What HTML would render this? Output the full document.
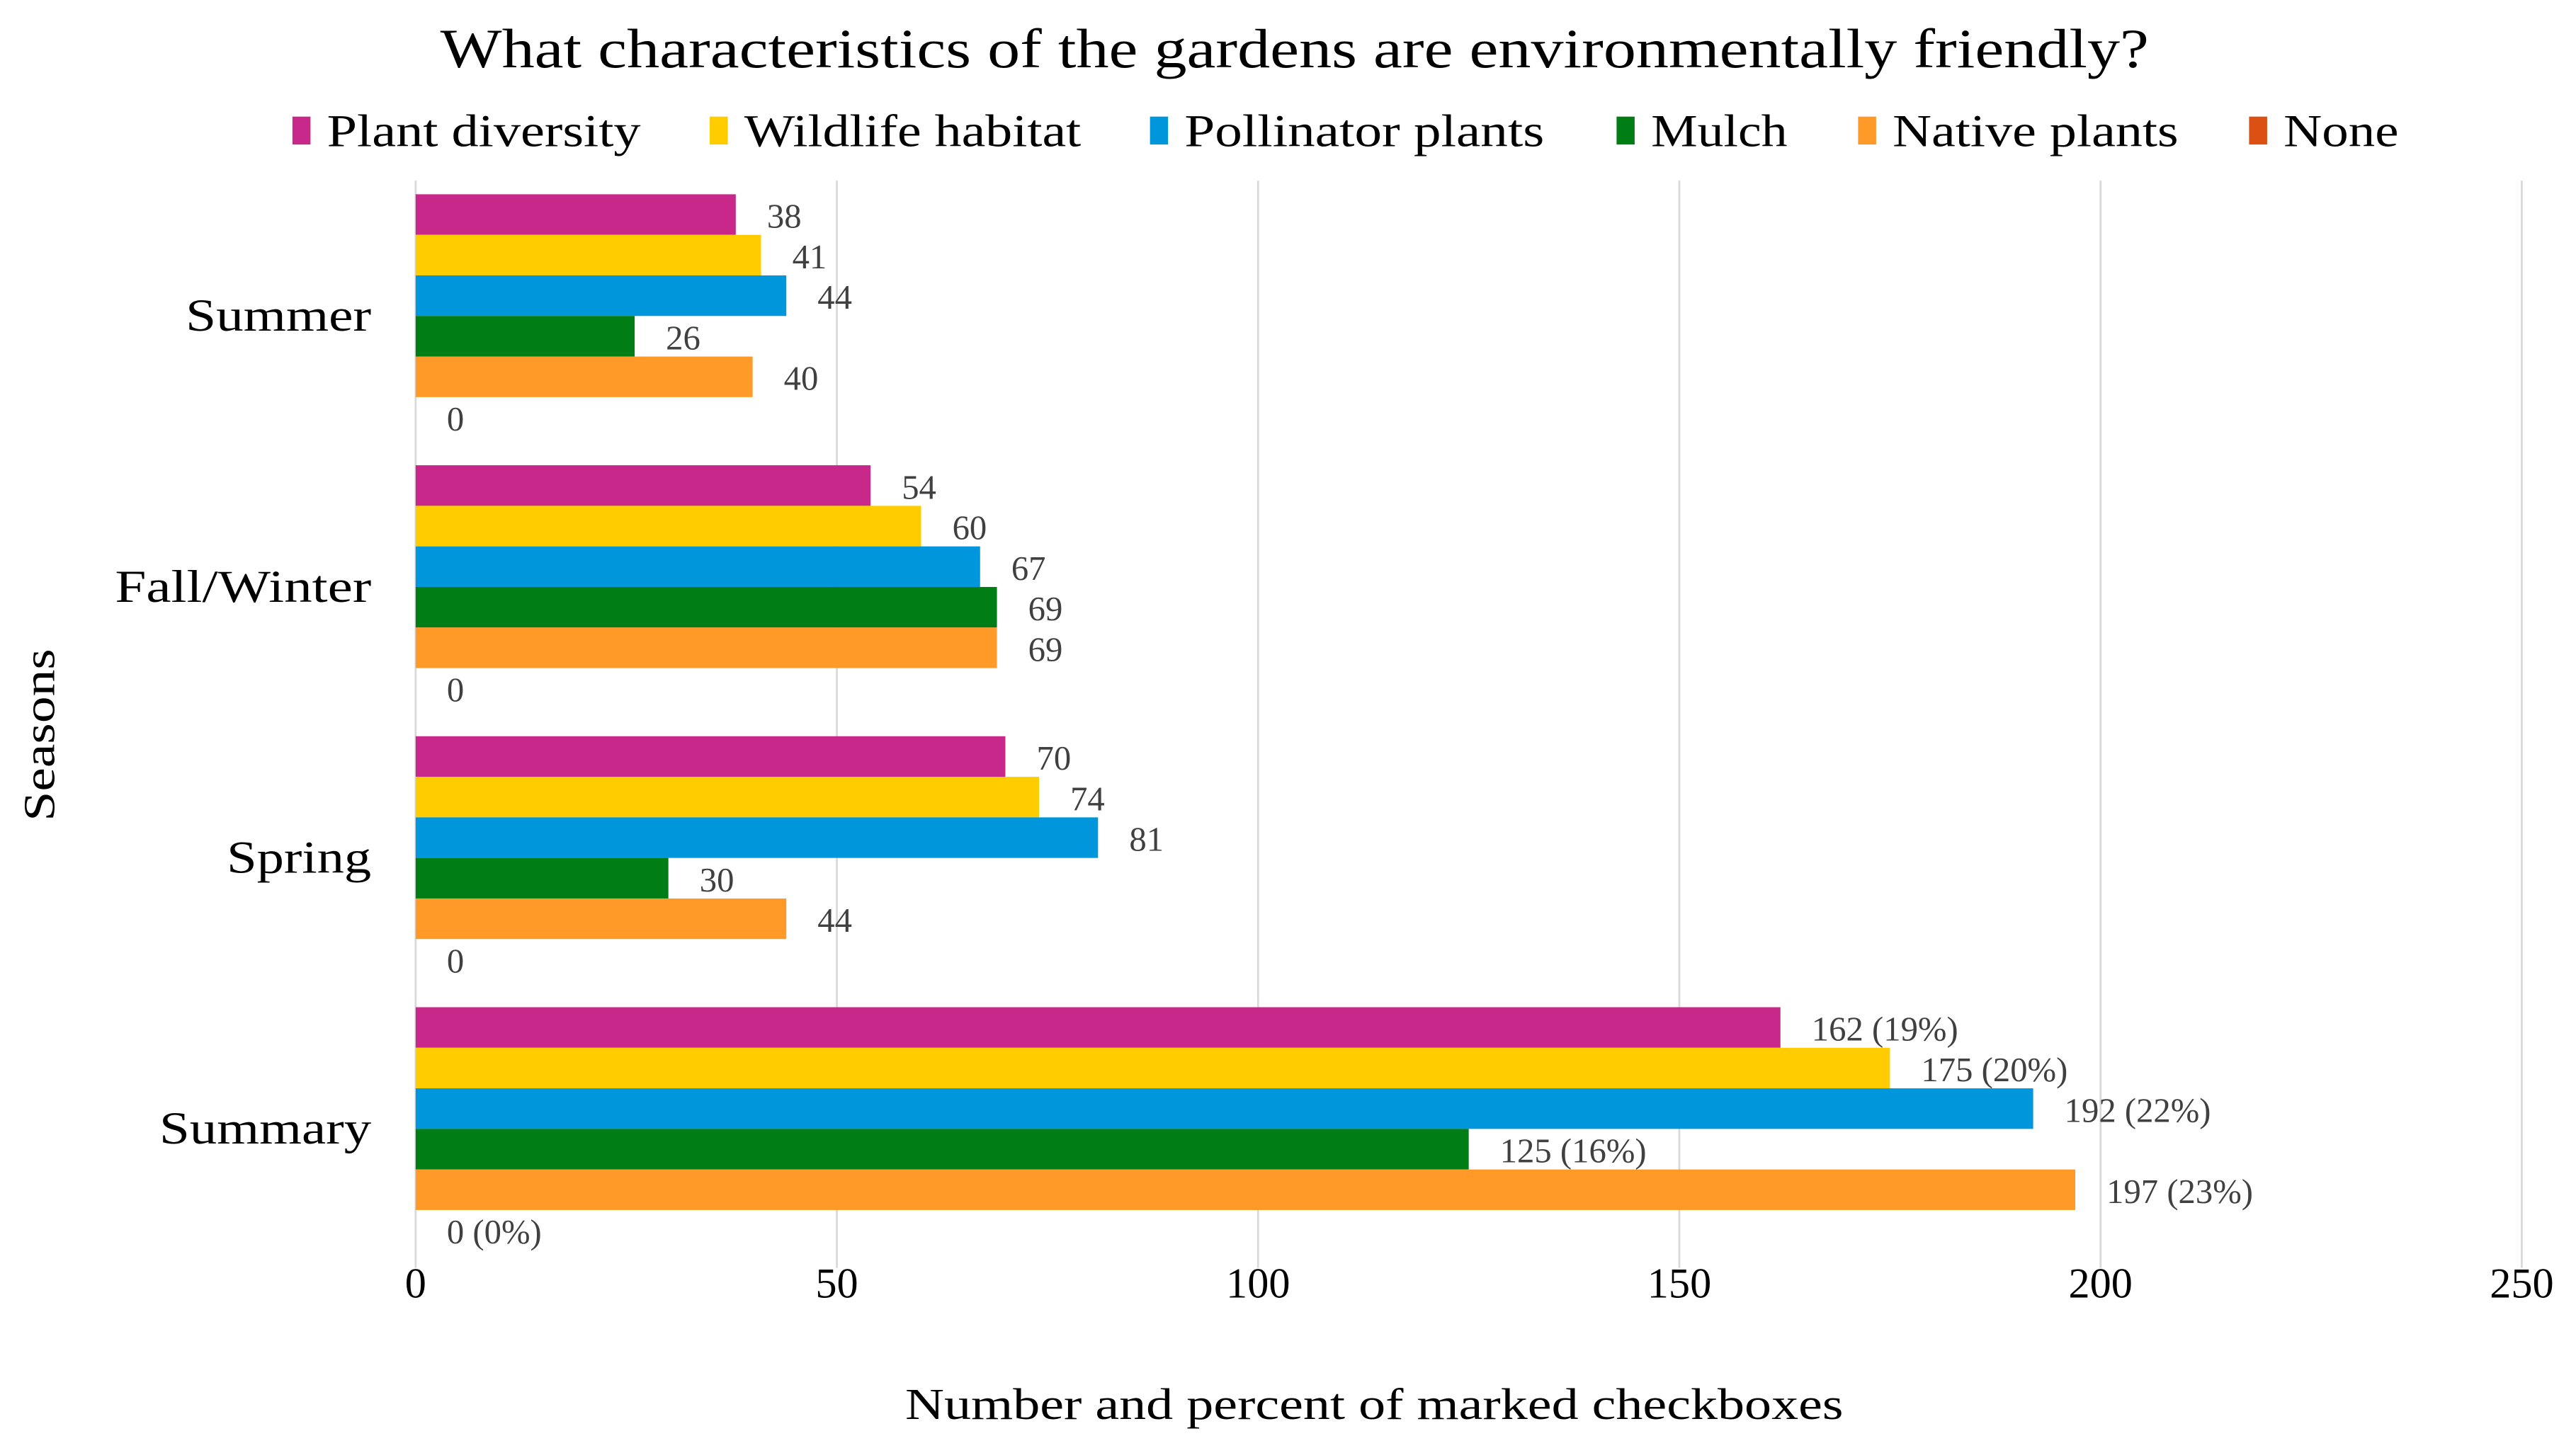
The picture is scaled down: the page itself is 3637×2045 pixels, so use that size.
<!DOCTYPE html>
<html><head><meta charset="utf-8"><style>
html,body{margin:0;padding:0;background:#fff;}
svg{display:block;font-family:"Liberation Serif",serif;}
</style></head><body>
<svg id="chart" width="3637" height="2045" viewBox="0 0 1568 881.7" preserveAspectRatio="none" xmlns="http://www.w3.org/2000/svg">
<text x="268" y="41" textLength="1040" lengthAdjust="spacingAndGlyphs" font-size="34" fill="#000">What characteristics of the gardens are environmentally friendly?</text>
<g id="legend"></g>
<g id="grid"></g>
<g id="bars"></g>
<g id="cats"></g>
<g id="ticks"></g>
<text x="551" y="864" textLength="571" lengthAdjust="spacingAndGlyphs" font-size="27" fill="#000">Number and percent of marked checkboxes</text>
<text transform="translate(33,500) rotate(-90)" textLength="105" lengthAdjust="spacingAndGlyphs" font-size="27" fill="#000">Seasons</text>
</svg>
<script>
const categories = ["Summer","Fall/Winter","Spring","Summary"];
const seriesNames = ["Plant diversity","Wildlife habitat","Pollinator plants","Mulch","Native plants","None"];
const plantDiversity = [38,54,70,162];
const wildlifeHabitat = [41,60,74,175];
const pollinatorPlants = [44,67,81,192];
const mulch = [26,69,30,125];
const nativePlants = [40,69,44,197];
const none = [0,0,0,0];
const summaryPercents = ["19%","20%","22%","16%","23%","0%"];
const xTicks = [0,50,100,150,200,250];

const series = [plantDiversity,wildlifeHabitat,pollinatorPlants,mulch,nativePlants,none];
const colors = ["#C8288A","#FFCC00","#0096DC","#007D14","#FF9A28","#DC5014"];
const NS = "http://www.w3.org/2000/svg";
const x0 = 253, x1 = 1535, xMax = 250;
const plotTop = 110, groupH = 165, barH = 24.7;
const xScale = v => x0 + (v / xMax) * (x1 - x0);
const groupTop = i => plotTop + i * groupH + 8.3;
const catWidths = [113,156,88,129];
const legX = [178,432,700,984,1131,1369];
const legW = [191,205,219,83,174,70];
function mk(tag, attrs, parent, txt){
  const e = document.createElementNS(NS, tag);
  for (const k in attrs) e.setAttribute(k, attrs[k]);
  if (txt !== undefined) e.textContent = txt;
  parent.appendChild(e); return e;
}
const grid = document.getElementById('grid');
const ticks = document.getElementById('ticks');
xTicks.forEach(t => {
  const l = mk('line', {x1:xScale(t), x2:xScale(t), y1:110, y2:772, stroke:'#d9d9d9', 'stroke-width':1.2}, grid);
  
  
  const tx = mk('text', {x:xScale(t), y:790, 'text-anchor':'middle', 'font-size':26, fill:'#000'}, ticks, String(t));
  
  
});
const bars = document.getElementById('bars');
const cats = document.getElementById('cats');
categories.forEach((c, ci) => {
  const ct = mk('text', {x:226 - catWidths[ci], y:groupTop(ci) + 3*barH + 9, textLength:catWidths[ci], lengthAdjust:'spacingAndGlyphs', 'font-size':28, fill:'#000'}, cats, c);
  
  
  series.forEach((s, si) => {
    const v = s[ci];
    const y = groupTop(ci) + si * barH;
    const w = xScale(v) - x0;
    if (w > 0) {
      const r = mk('rect', {x:x0, y:y, width:w, height:barH, fill:colors[si]}, bars);
      
      
    }
    const label = ci === 3 ? v + " (" + summaryPercents[si] + ")" : String(v);
    const lt = mk('text', {x:xScale(v) + 19, y:y + barH/2 + 8, 'font-size':21, fill:'#404040'}, bars, label);
    
    
  });
});
const legend = document.getElementById('legend');
seriesNames.forEach((n, i) => {
  const g = mk('g', {}, legend);
  
  
  mk('rect', {x:legX[i], y:71, width:11, height:17, fill:colors[i]}, g);
  mk('text', {x:legX[i] + 21, y:89, textLength:legW[i], lengthAdjust:'spacingAndGlyphs', 'font-size':28, fill:'#000'}, g, n);
});
</script>
</body></html>
